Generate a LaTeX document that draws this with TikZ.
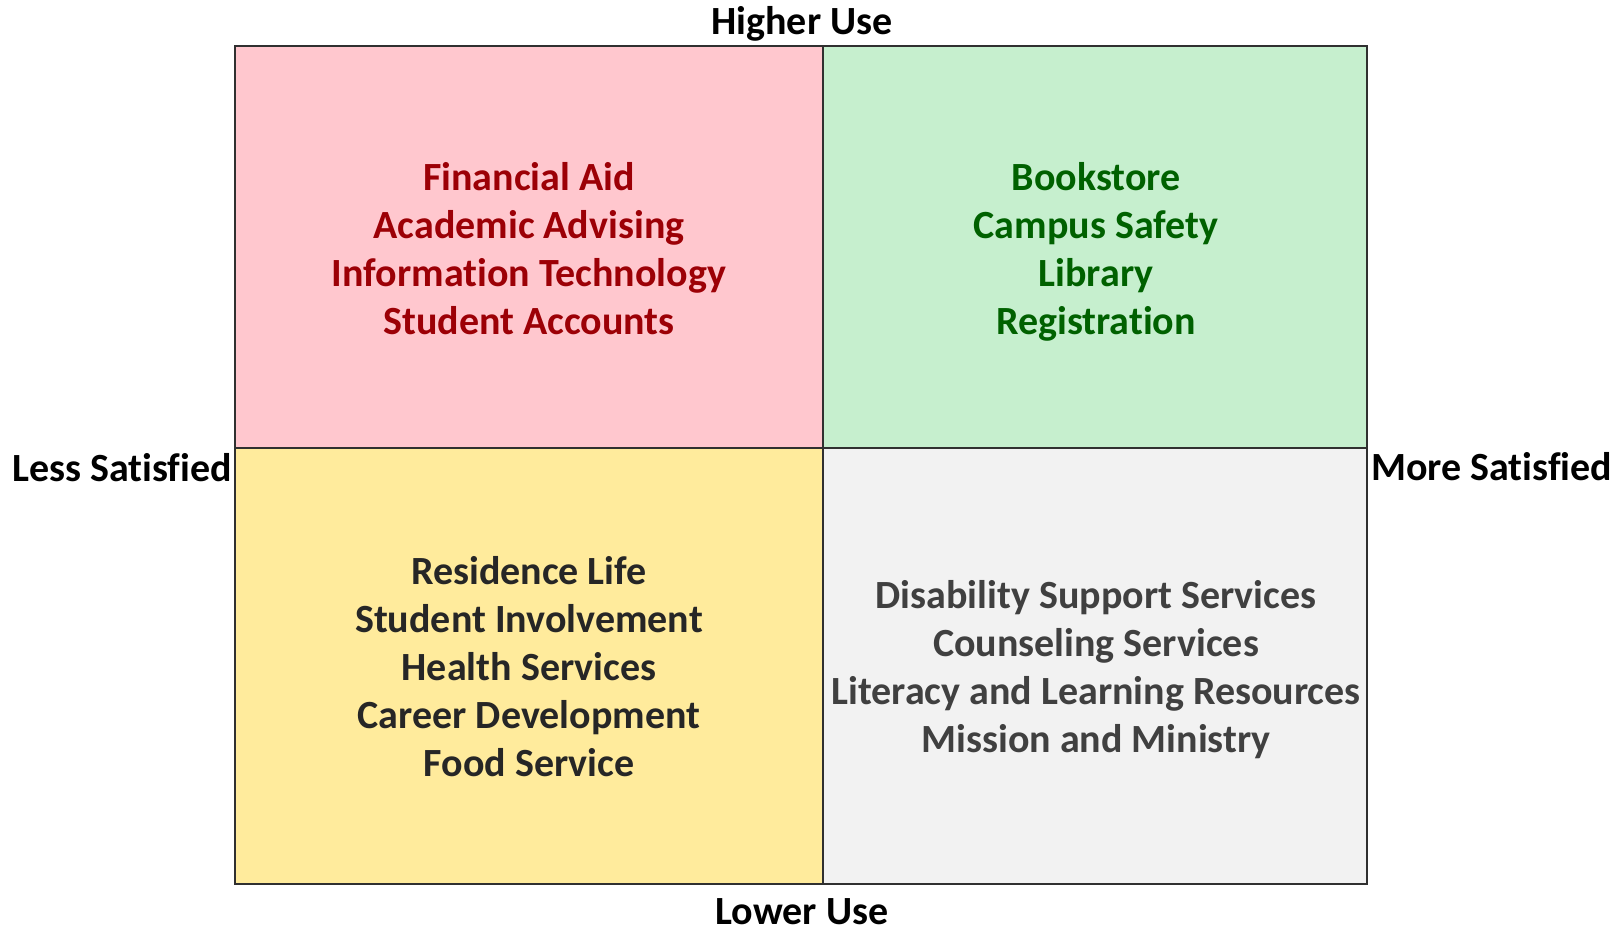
\documentclass[tikz,border=0pt]{standalone}
\usepackage{fontspec}
\setmainfont{Carlito}[Ligatures=NoCommon]
\definecolor{redfill}{HTML}{FFC7CE}
\definecolor{redtext}{HTML}{9C0006}
\definecolor{greenfill}{HTML}{C6EFCE}
\definecolor{greentext}{HTML}{006100}
\definecolor{yellowfill}{HTML}{FFEB9C}
\definecolor{yellowtext}{HTML}{262626}
\definecolor{grayfill}{HTML}{F2F2F2}
\definecolor{graytext}{HTML}{404040}
\definecolor{edge}{HTML}{303030}
\begin{document}
\begin{tikzpicture}[x=1pt,y=-1pt,
  quad/.style={draw=edge,line width=1.4pt},
  txt/.style={font=\fontsize{40}{48}\selectfont\bfseries,align=center,inner sep=0pt,anchor=center},
  axis/.style={font=\fontsize{40}{48}\selectfont\bfseries,inner sep=0pt,text=black}]
\useasboundingbox (0,0) rectangle (1623,929);
\fill[white] (0,0) rectangle (1623,929);
% quadrants
\path[quad,fill=redfill] (235,46) rectangle (823,448);
\path[quad,fill=greenfill] (823,46) rectangle (1367,448);
\path[quad,fill=yellowfill] (235,448) rectangle (823,884);
\path[quad,fill=grayfill] (823,448) rectangle (1367,884);
% quadrant texts
\node[txt,text=redtext] (red) at (529,253) {\strut Financial Aid\\\strut Academic Advising\\\strut Information Technology\\\strut Student Accounts};
\node[txt,text=greentext] (green) at (1096,253) {\strut Bookstore\\\strut Campus Safety\\\strut Library\\\strut Registration};
\node[txt,text=yellowtext] (yellow) at (529,671) {\strut Residence Life\\\strut Student Involvement\\\strut Health Services\\\strut Career Development\\\strut Food Service};
\node[txt,text=graytext] (gray) at (1096,671) {\strut Disability Support Services\\\strut Counseling Services\\\strut Literacy and Learning Resources\\\strut Mission and Ministry};
% axis labels
\node[axis,anchor=base] (top) at (802,34) {Higher Use};
\node[axis,anchor=base] (bottom) at (802,924) {Lower Use};
\node[axis,anchor=base east] (left) at (232,481) {Less Satisfied};
\node[axis,anchor=base west] (right) at (1371,480) {More Satisfied};
\end{tikzpicture}
\end{document}
